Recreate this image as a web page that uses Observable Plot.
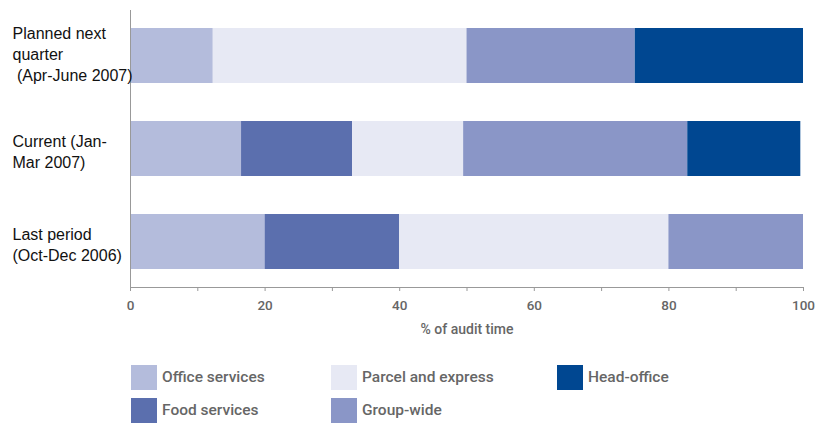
<!DOCTYPE html>
<html>
<head>
<meta charset="utf-8">
<script src="https://cdn.jsdelivr.net/npm/d3@7"></script>
<script src="https://cdn.jsdelivr.net/npm/@observablehq/plot@0.6"></script>
<style>
  html, body { margin: 0; padding: 0; background: #fff; }
  #wrap { position: relative; width: 818px; height: 423px; overflow: hidden; }
  .lg { position: absolute; font-family: Roboto, sans-serif; font-size: 15.5px; color: #666; font-weight: 500; }
  .sw { position: absolute; width: 26px; height: 25px; }
</style>
</head>
<body>
<div id="wrap"></div>
<script>
const periods = ["Planned next\nquarter\n\u00a0(Apr-June 2007)", "Current (Jan-\nMar 2007)", "Last period\n(Oct-Dec 2006)"];
const categories = ["Office services", "Food services", "Parcel and express", "Group-wide", "Head-office"];
const colors = ["#b4bcdc", "#5b6fae", "#e7e9f4", "#8a96c7", "#004791"];
const plannedValues = [12.3, 0, 37.7, 25, 25];
const currentValues = [16.5, 16.5, 16.5, 33.3, 16.8];
const lastValues = [20, 20, 40, 20, 0];
const xTicks = [0, 10, 20, 30, 40, 50, 60, 70, 80, 90, 100];
const xLabel = "% of audit time";

const seriesByPeriod = [plannedValues, currentValues, lastValues];
const data = [];
periods.forEach((p, i) => categories.forEach((c, j) => {
  data.push({period: p, category: c, value: seriesByPeriod[i][j]});
}));

const labelStyle = {frameAnchor: "left", textAnchor: "start", dx: -118, lineHeight: 1.32, fontSize: 16,
  fill: "#111", fontFamily: "Liberation Sans, Arial, sans-serif"};

const chart = Plot.plot({
  width: 818,
  height: 350,
  marginLeft: 130,
  marginRight: 15,
  marginTop: 10,
  marginBottom: 63,
  style: {background: "#fff", fontFamily: "Roboto, sans-serif"},
  x: {domain: [0, 100]},
  y: {domain: periods, paddingInner: 0.41, paddingOuter: 0.19},
  color: {domain: categories, range: colors},
  marks: [
    Plot.barX(data, {x: "value", y: "period", fill: "category", inset: 0}),
    Plot.frame({anchor: "left", stroke: "#999"}),
    Plot.frame({anchor: "bottom", stroke: "#999"}),
    Plot.axisX({ticks: xTicks, tickSize: 4, stroke: "#999", tickFormat: d => d % 20 === 0 ? String(d) : "",
      fontFamily: "Roboto, sans-serif", fontSize: 13.5, fontWeight: 500,
      fill: "#666", tickPadding: 9, label: null}),
    Plot.text([xLabel], {frameAnchor: "bottom", dy: 46, text: d => d,
      fontFamily: "Roboto, sans-serif", fontSize: 14, fontWeight: 500, fill: "#666"}),
    Plot.axisY({ticks: [], label: null}),
    Plot.text(periods.slice(0, 1), {y: d => d, text: d => d, dy: -3, ...labelStyle}),
    Plot.text(periods.slice(1), {y: d => d, text: d => d, dy: 2, ...labelStyle})
  ]
});
const wrap = document.getElementById("wrap");
wrap.appendChild(chart);

const legendPos = [[131, 365], [131, 398], [331, 365], [331, 398], [557, 365]];
categories.forEach((c, i) => {
  const [x, y] = legendPos[i];
  const sw = document.createElement("div");
  sw.className = "sw";
  sw.style.left = x + "px"; sw.style.top = y + "px"; sw.style.background = colors[i];
  wrap.appendChild(sw);
  const t = document.createElement("div");
  t.className = "lg";
  t.style.left = (x + 31) + "px"; t.style.top = (y + 3) + "px";
  t.textContent = c;
  wrap.appendChild(t);
});
</script>
</body>
</html>
